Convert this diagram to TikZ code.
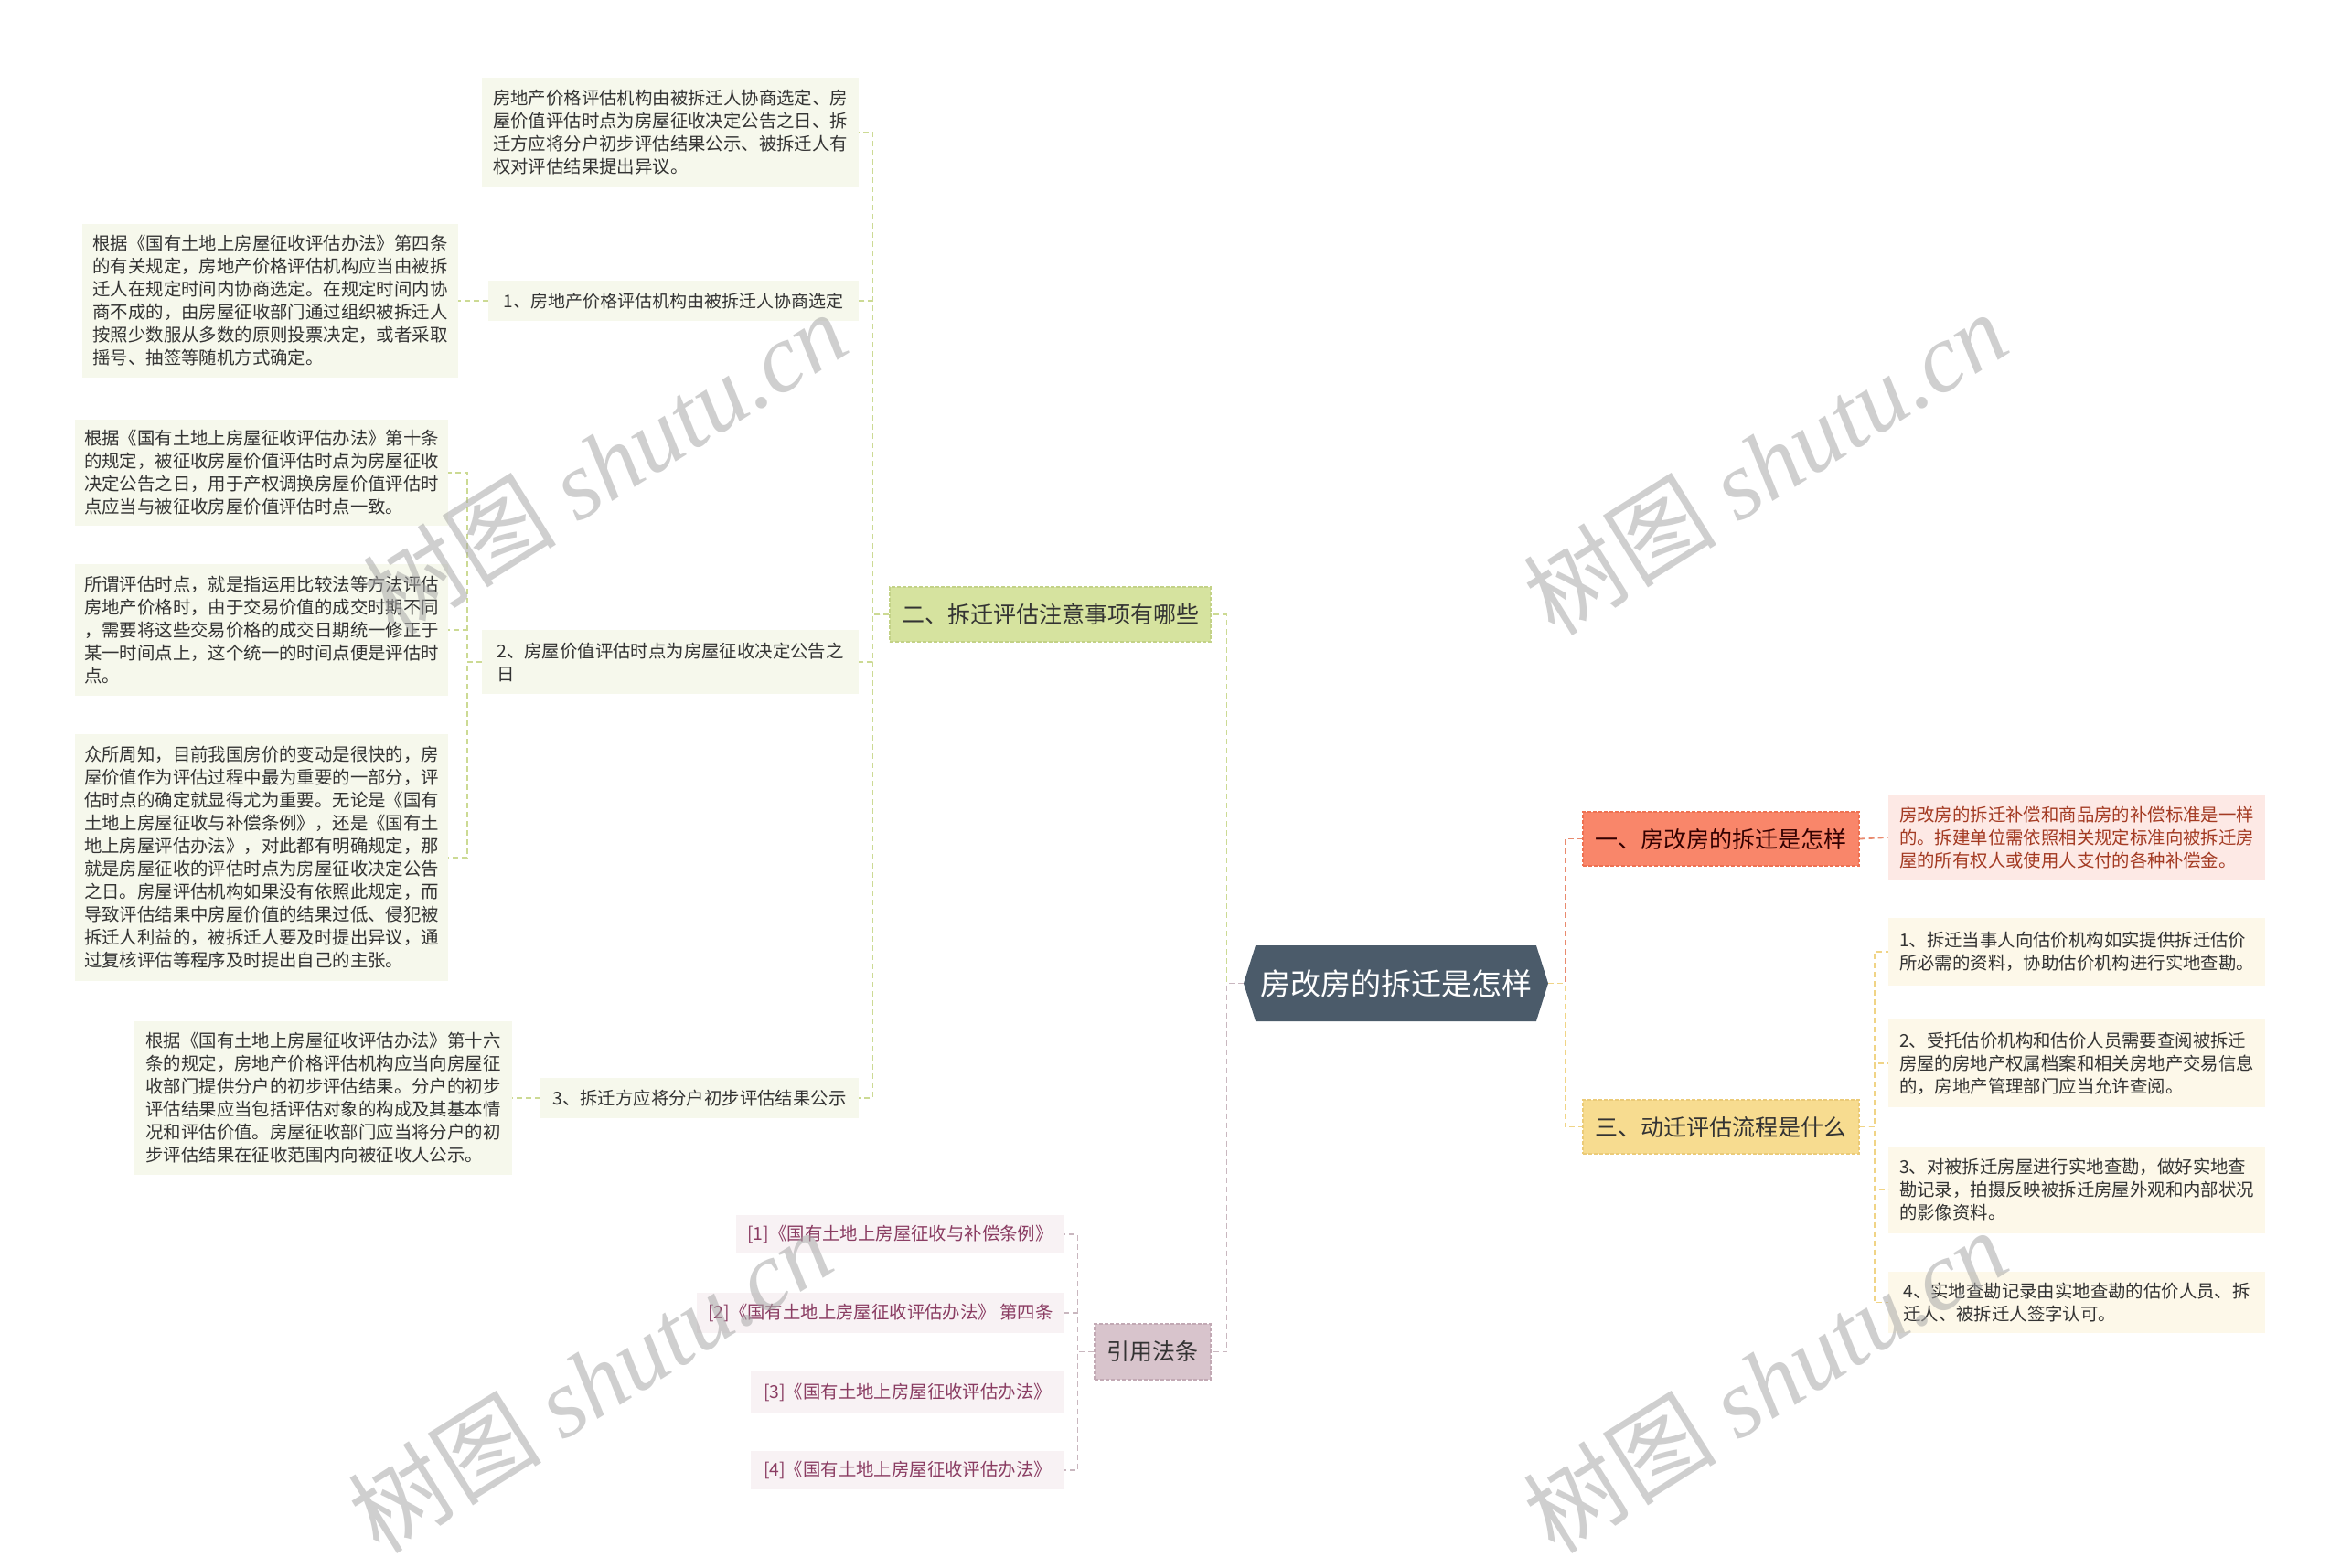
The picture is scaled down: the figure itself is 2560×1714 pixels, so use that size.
\documentclass[tikz,border=0pt]{standalone}
\usepackage{fontspec}
\setmainfont{Noto Sans CJK SC}
\newfontfamily\wmlatin{Liberation Serif}
\usetikzlibrary{shapes.symbols}
\definecolor{rootc}{HTML}{4B5B6A}
\definecolor{gsec}{HTML}{D6E39F}
\definecolor{gsecb}{HTML}{C3D287}
\definecolor{gleaf}{HTML}{F6F8EC}
\definecolor{gline}{HTML}{CCDA94}
\definecolor{msec}{HTML}{D8C4CC}
\definecolor{msecb}{HTML}{C2A9B4}
\definecolor{mleaf}{HTML}{F8F2F4}
\definecolor{mtext}{HTML}{8A3C62}
\definecolor{mline}{HTML}{C9B7BF}
\definecolor{osec}{HTML}{F9866A}
\definecolor{osecb}{HTML}{EE7152}
\definecolor{oleaf}{HTML}{FDE9E5}
\definecolor{otext}{HTML}{A33A22}
\definecolor{oline}{HTML}{E98A6E}
\definecolor{ysec}{HTML}{F7DC90}
\definecolor{ysecb}{HTML}{EBCB78}
\definecolor{yleaf}{HTML}{FDF8E9}
\definecolor{yline}{HTML}{F0D486}
\definecolor{txt}{HTML}{333333}
\definecolor{wmc}{HTML}{A8A8A8}
\newcommand\leaffont{\fontsize{9.7}{12.5}\selectfont}
\newcommand\secfont{\fontsize{12.5}{15}\selectfont}
\newcommand\rootfont{\fontsize{16.5}{19}\selectfont}
\newcommand\wmfont{\fontsize{53}{60}\selectfont}
\begin{document}
\begin{tikzpicture}[x=0.5pt,y=-0.5pt,
  wh/.style 2 args={minimum width=#1*0.5pt, minimum height=#2*0.5pt},
  leafbase/.style={rectangle, align=left, inner sep=0pt, font=\leaffont},
  gleafs/.style={leafbase, fill=gleaf, text=txt},
  mleafs/.style={leafbase, fill=mleaf, text=mtext},
  oleafs/.style={leafbase, fill=oleaf, text=otext},
  yleafs/.style={leafbase, fill=yleaf, text=txt},
  secbase/.style={rectangle, align=center, inner sep=0pt, font=\secfont, text=txt, dash pattern=on 2pt off 1pt, line width=0.6pt},
  conn/.style={dash pattern=on 3pt off 2pt, line width=0.9pt},
  gl/.style={conn, draw=gline},
  ml/.style={conn, draw=mline},
  ol/.style={conn, draw=oline},
  yl/.style={conn, draw=yline},
  wm/.style={rotate=32, text=wmc, opacity=0.55, font=\wmfont, inner sep=0pt}
]
\useasboundingbox (0,0) rectangle (2560,1714);
\fill[white] (0,0) rectangle (2560,1714);

% root
\node[signal, signal to=west and east, signal pointer angle=145, fill=rootc,
  minimum width=166.5pt, minimum height=41.5pt, inner sep=0pt, text=white, font=\rootfont]
  (root) at (1526.5,1075.5) {房改房的拆迁是怎样};

% sections
\node[secbase, fill=gsec, draw=gsecb, wh={351}{60}] (sec2) at (1148.5,672) {二、拆迁评估注意事项有哪些};
\node[secbase, fill=msec, draw=msecb, wh={127}{61}] (cite) at (1260.5,1478.5) {引用法条};
\node[secbase, fill=osec, draw=osecb, wh={302}{59}, text=black!80!red] (sec1) at (1882,917.5) {一、房改房的拆迁是怎样};
\node[secbase, fill=ysec, draw=ysecb, wh={302}{59}] (sec3) at (1882,1232.5) {三、动迁评估流程是什么};

% green branch
\node[gleafs, wh={412}{119}] (t0) at (733,144.5) {房地产价格评估机构由被拆迁人协商选定、房\\屋价值评估时点为房屋征收决定公告之日、拆\\迁方应将分户初步评估结果公示、被拆迁人有\\权对评估结果提出异议。};
\node[gleafs, wh={405}{44}, font=\fontsize{9.5}{12}\selectfont] (i1) at (736.5,329) {1、房地产价格评估机构由被拆迁人协商选定};
\node[gleafs, wh={411}{168}] (L1) at (295.5,329) {根据《国有土地上房屋征收评估办法》第四条\\的有关规定，房地产价格评估机构应当由被拆\\迁人在规定时间内协商选定。在规定时间内协\\商不成的，由房屋征收部门通过组织被拆迁人\\按照少数服从多数的原则投票决定，或者采取\\摇号、抽签等随机方式确定。};
\node[gleafs, wh={412}{70}] (i2) at (733,724) {2、房屋价值评估时点为房屋征收决定公告之\\日};
\node[gleafs, wh={408}{116}] (L2) at (286,517) {根据《国有土地上房屋征收评估办法》第十条\\的规定，被征收房屋价值评估时点为房屋征收\\决定公告之日，用于产权调换房屋价值评估时\\点应当与被征收房屋价值评估时点一致。};
\node[gleafs, wh={408}{144}] (L3) at (286,689) {所谓评估时点，就是指运用比较法等方法评估\\房地产价格时，由于交易价值的成交时期不同\\，需要将这些交易价格的成交日期统一修正于\\某一时间点上，这个统一的时间点便是评估时\\点。};
\node[gleafs, wh={408}{270}] (L4) at (286,938) {众所周知，目前我国房价的变动是很快的，房\\屋价值作为评估过程中最为重要的一部分，评\\估时点的确定就显得尤为重要。无论是《国有\\土地上房屋征收与补偿条例》，还是《国有土\\地上房屋评估办法》，对此都有明确规定，那\\就是房屋征收的评估时点为房屋征收决定公告\\之日。房屋评估机构如果没有依照此规定，而\\导致评估结果中房屋价值的结果过低、侵犯被\\拆迁人利益的，被拆迁人要及时提出异议，通\\过复核评估等程序及时提出自己的主张。};
\node[gleafs, wh={348}{44}] (i3) at (765,1201) {3、拆迁方应将分户初步评估结果公示};
\node[gleafs, wh={413}{168}] (L5) at (353.5,1201) {根据《国有土地上房屋征收评估办法》第十六\\条的规定，房地产价格评估机构应当向房屋征\\收部门提供分户的初步评估结果。分户的初步\\评估结果应当包括评估对象的构成及其基本情\\况和评估价值。房屋征收部门应当将分户的初\\步评估结果在征收范围内向被征收人公示。};

% citations
\node[mleafs, wh={359}{42}] (r1) at (984.5,1350) {[1]《国有土地上房屋征收与补偿条例》};
\node[mleafs, wh={402}{44}] (r2) at (963,1436) {[2]《国有土地上房屋征收评估办法》 第四条};
\node[mleafs, wh={343}{45}] (r3) at (992.5,1522.5) {[3]《国有土地上房屋征收评估办法》};
\node[mleafs, wh={343}{42}] (r4) at (992.5,1608) {[4]《国有土地上房屋征收评估办法》};

% right side
\node[oleafs, wh={412}{94}] (p1) at (2271,916) {房改房的拆迁补偿和商品房的补偿标准是一样\\的。拆建单位需依照相关规定标准向被拆迁房\\屋的所有权人或使用人支付的各种补偿金。};
\node[yleafs, wh={412}{74}] (s1) at (2271,1041) {1、拆迁当事人向估价机构如实提供拆迁估价\\所必需的资料，协助估价机构进行实地查勘。};
\node[yleafs, wh={412}{96}] (s2) at (2271,1163) {2、受托估价机构和估价人员需要查阅被拆迁\\房屋的房地产权属档案和相关房地产交易信息\\的，房地产管理部门应当允许查阅。};
\node[yleafs, wh={412}{95}] (s3) at (2271,1301.5) {3、对被拆迁房屋进行实地查勘，做好实地查\\勘记录，拍摄反映被拆迁房屋外观和内部状况\\的影像资料。};
\node[yleafs, wh={412}{67}] (s4) at (2271,1424.5) {4、实地查勘记录由实地查勘的估价人员、拆\\迁人、被拆迁人签字认可。};

% connectors
\draw[gl] (root.west) -- ++(-18,0) |- (sec2.east);
\draw[ml] (root.west) -- ++(-18,0) |- (cite.east);
\draw[ol] (root.east) -- ++(18,0) |- (sec1.west);
\draw[yl] (root.east) -- ++(18,0) |- (sec3.west);

\foreach \n in {t0,i1,i2,i3} \draw[gl] (sec2.west) -- ++(-18,0) |- (\n.east);
\draw[gl] (i1.west) -- (L1.east);
\foreach \n in {L2,L3,L4} \draw[gl] (i2.west) -- ++(-16,0) |- (\n.east);
\draw[gl] (i3.west) -- (L5.east);

\foreach \n in {r1,r2,r3,r4} \draw[ml] (cite.west) -- ++(-18,0) |- (\n.east);

\draw[ol] (sec1.east) -- (p1.west);
\foreach \n in {s1,s2,s3,s4} \draw[yl] (sec3.east) -- ++(16,0) |- (\n.west);

% watermarks
\node[wm] (wm1) at (661,506) {树图 {\wmlatin\itshape shutu.cn}};
\node[wm] (wm2) at (1930,506) {树图 {\wmlatin\itshape shutu.cn}};
\node[wm] (wm3) at (645,1510) {树图 {\wmlatin\itshape shutu.cn}};
\node[wm] (wm4) at (1930,1510) {树图 {\wmlatin\itshape shutu.cn}};
\end{tikzpicture}
\end{document}
